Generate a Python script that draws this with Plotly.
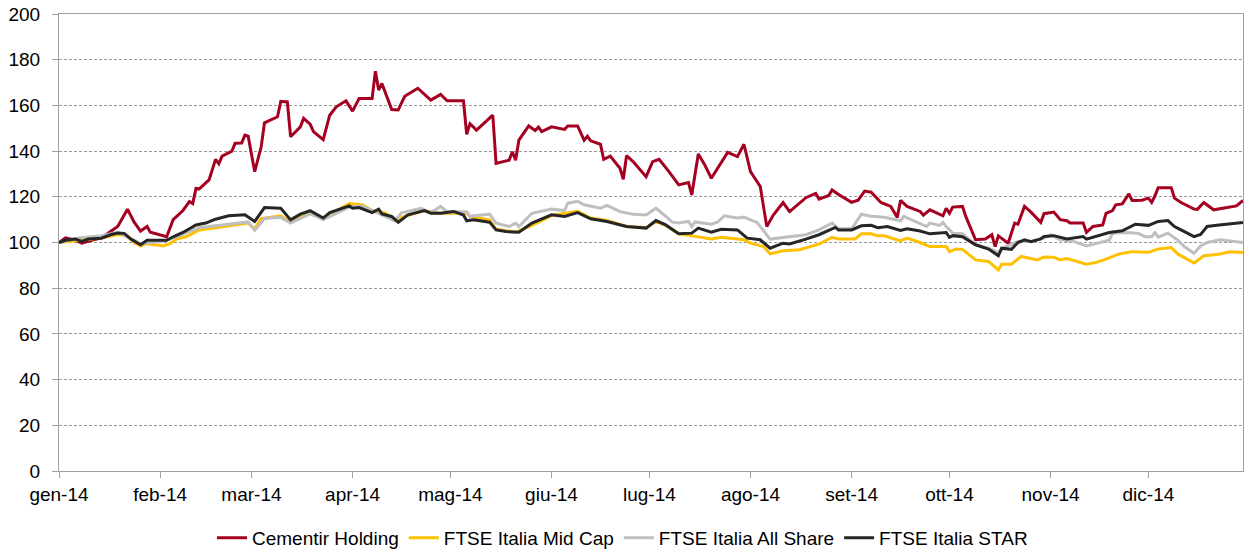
import pandas as pd
import plotly.graph_objects as go

# ---- data (day offset from 1 Jan 2014, index value base 100) ----
cementir_days = [0, 2, 5, 7, 10, 13, 16, 18, 21, 23, 25, 27, 28, 32, 33, 35, 38, 40, 41, 42, 43, 46, 48, 49, 50, 53, 54, 56, 57, 58,
                 60, 62, 63, 67, 68, 70, 71, 74, 75, 77, 78, 81, 83, 85, 88, 90, 92, 96, 97, 98, 99, 102, 104, 106, 110, 114, 117, 119,
                 124, 125, 126, 128, 133, 134, 138, 139, 140, 141, 144, 146, 147, 148, 151, 155, 156, 159, 161, 162, 163, 166, 167, 169,
                 172, 173, 174, 176, 180, 182, 184, 187, 190, 193, 194, 196, 198, 200, 205, 208, 210, 212, 215, 216, 217, 219, 222, 224,
                 229, 232, 233, 236, 237, 239, 243, 245, 247, 249, 251, 252, 255, 257, 258, 260, 264, 265, 267, 271, 272, 273, 274, 277,
                 278, 281, 284, 286, 287, 288, 291, 293, 294, 296, 298, 300, 301, 302, 305, 307, 309, 310, 314, 315, 317, 320, 321, 323,
                 324, 326, 328, 329, 332, 334, 335, 336, 337, 341, 342, 344, 348, 349, 351, 354, 357, 361, 363]
cementir_vals = [100, 102, 101, 99.7, 101, 102, 105, 107, 114.6, 109, 105, 107, 104.5, 103, 102.5, 110, 114, 117.9, 117, 123.7, 123.5,
                 127.4, 136.4, 134.5, 137.8, 140, 143.4, 143.5, 147, 146.5, 131, 142, 152.4, 155, 161.8, 161.5, 146.3, 150.6, 154.3,
                 151.8, 148.5, 145, 155.7, 159.4, 162, 157.5, 163, 163, 175, 166.7, 169.6, 158.2, 158, 164, 167.5, 162.3, 164.8, 162,
                 162, 147.3, 152, 149.2, 155.7, 134.6, 136, 139.7, 136, 144.8, 151, 149, 150.5, 148.5, 150.6, 149.5, 151, 151, 144.8,
                 146.5, 144.5, 143, 136.4, 137.8, 132.5, 127.7, 138, 135.4, 128.8, 135.4, 136.4, 131, 125.2, 126.2, 120.8, 138.7,
                 133.9, 128.1, 139.4, 137.6, 143, 131, 124.5, 115.7, 107, 112, 117.5, 113.5, 119.6, 121.5, 119, 120.6, 123, 121,
                 117.6, 118.5, 122.5, 122, 119, 117.5, 115.8, 111, 118.4, 115.8, 113.6, 112, 114.3, 111.7, 115, 112.8, 115.5, 115.8,
                 111.4, 101.2, 101.5, 103.4, 98.2, 102.9, 99.7, 108.5, 108, 115.8, 113.3, 110, 108.8, 112.6, 113.3, 110, 109.5, 108.5,
                 108.5, 104.4, 107, 107.7, 112.8, 114, 116.5, 116.9, 121.3, 118.4, 118.5, 119.4, 117.5, 120.4, 124, 124, 119.4, 117.5,
                 114.6, 114.5, 117.5, 114.3, 115, 116, 118.4]

midcap_days = [0, 13, 18, 21, 23, 25, 27, 32, 34, 36, 39, 43, 48, 54, 58, 60, 62, 65, 68, 71, 77, 81, 89, 93, 96, 100, 103, 106, 112,
               117, 125, 126, 132, 134, 140, 145, 151, 159, 163, 168, 174, 180, 183, 186, 190, 194, 200, 203, 210, 212, 216, 218, 222,
               227, 233, 237, 239, 244, 246, 249, 251, 253, 258, 260, 264, 267, 272, 273, 275, 277, 281, 285, 288, 289, 292, 295, 298,
               300, 302, 305, 307, 309, 315, 318, 321, 325, 329, 334, 337, 341, 343, 348, 351, 355, 359, 363]
midcap_vals = [100, 102, 103.5, 103, 100, 98.5, 99.5, 98.5, 99.5, 101.5, 102.5, 105.5, 106.5, 107.7, 108.5, 106, 110.4, 111, 111.7,
               109, 112.8, 110.5, 117, 116.5, 114, 113, 109.5, 111.5, 114, 112.8, 112.8, 111.4, 109.9, 105.8, 104.5, 107.5, 111.8,
               113.6, 110.7, 109.6, 107, 106.5, 109.2, 107.5, 103.8, 102.9, 101.5, 102.3, 101.2, 99.7, 98.2, 95, 96.4, 96.8, 99.3,
               102.3, 101.5, 101.5, 103.8, 103.8, 102.9, 102.9, 100.7, 101.9, 100, 98.2, 98.2, 96, 97.2, 97, 92.4, 91.7, 88, 90.5,
               90.5, 93.9, 92.8, 92.4, 93.6, 93.5, 92.4, 93, 90.5, 91.3, 92.7, 95, 96, 95.7, 97.2, 97.8, 95, 91, 94.2, 94.7, 95.9,
               95.6]

allshare_days = [0, 6, 13, 18, 23, 25, 32, 36, 43, 54, 58, 60, 63, 68, 71, 77, 81, 89, 93, 96, 103, 105, 111, 114, 117, 119, 125, 126,
                 132, 134, 138, 140, 141, 145, 151, 155, 156, 159, 161, 166, 168, 172, 176, 180, 183, 186, 188, 190, 193, 194, 195,
                 200, 202, 204, 208, 210, 214, 218, 222, 229, 233, 237, 239, 243, 246, 249, 253, 258, 259, 264, 266, 267, 270, 271,
                 272, 274, 277, 281, 285, 288, 290, 294, 298, 302, 304, 307, 311, 315, 319, 322, 323, 327, 331, 333, 335, 336, 337,
                 340, 341, 343, 345, 348, 350, 352, 356, 363]
allshare_vals = [100, 102, 103, 104.5, 101, 99.5, 100.5, 102.5, 106.5, 108.5, 109, 105.3, 110.5, 111, 108.5, 112.5, 110, 115.5, 116,
                 114, 109.5, 113, 115, 113, 115.8, 113.5, 113.5, 111.5, 112.4, 108.5, 107, 108.5, 107, 112.8, 114.6, 114, 117.2, 118,
                 116.5, 115, 116.2, 113.5, 112.4, 112, 115, 111.5, 108.9, 108.5, 109.2, 107, 109, 108, 109, 111.7, 110.7, 111.1,
                 108.8, 101.5, 102.3, 103.4, 105.5, 108.5, 106, 106, 112.4, 111.5, 111, 109.5, 111.4, 108.5, 107, 108.5, 107.5, 108.8,
                 107, 104.1, 103.8, 99, 97.5, 95.6, 98, 100.4, 100.5, 101.9, 103.4, 101.2, 100.5, 98.5, 100, 101, 104.1, 104.4, 104,
                 102.5, 102.5, 104.3, 102.3, 104.1, 103, 101, 98.2, 95.3, 98.5, 100, 101.2, 100]

star_days = [0, 2, 5, 7, 9, 13, 16, 18, 20, 22, 25, 27, 30, 33, 35, 38, 42, 45, 48, 52, 57, 60, 63, 68, 71, 74, 77, 81, 83, 87, 89, 90,
             92, 96, 98, 99, 102, 104, 107, 112, 114, 117, 121, 124, 125, 127, 132, 134, 137, 141, 145, 151, 155, 159, 163, 168, 174,
             180, 183, 186, 190, 194, 196, 200, 203, 208, 211, 215, 218, 222, 224, 229, 233, 238, 239, 243, 246, 249, 251, 254, 258,
             260, 264, 267, 272, 273, 274, 277, 281, 285, 288, 289, 292, 294, 296, 298, 301, 302, 305, 309, 314, 315, 319, 322, 326,
             330, 334, 337, 340, 342, 344, 348, 350, 352, 355, 363]
star_vals = [100, 101, 101.5, 100.5, 101.5, 101.9, 103.5, 104.1, 104, 101.5, 99, 101, 101, 101, 102.5, 104.4, 107.7, 108.5, 110.2,
             111.7, 112.1, 109.2, 115.3, 115, 109.9, 112.4, 113.9, 110.7, 113.1, 115, 116, 115, 115.3, 113.1, 114.6, 112.5, 111.4,
             108.8, 112.1, 114, 112.8, 112.8, 113.6, 112, 109.5, 110, 108.9, 105.5, 104.8, 104.5, 108.5, 112.1, 111.4, 113.1, 110.4,
             109.2, 107, 106.3, 109.6, 107.7, 103.8, 104.1, 106.3, 104.5, 105.8, 105.5, 101.9, 101.2, 97.5, 99.7, 99.4, 101.5, 103.4,
             106.6, 105.5, 105.5, 107.3, 107.5, 106.5, 107, 105.3, 106, 105, 103.8, 104.4, 102.3, 103, 102.5, 99, 97.1, 94.2, 97.5,
             97, 100, 101.2, 100.4, 101.6, 102.6, 103, 101.5, 102.6, 101.5, 103, 104.4, 105.1, 108, 107.5, 109.2, 109.6, 107, 105.5,
             102.6, 103.5, 107, 107.5, 108.8]

month_ticks = ["2014-01-01", "2014-02-01", "2014-03-01", "2014-04-01", "2014-05-01", "2014-06-01",
               "2014-07-01", "2014-08-01", "2014-09-01", "2014-10-01", "2014-11-01", "2014-12-01"]
month_labels = ["gen-14", "feb-14", "mar-14", "apr-14", "mag-14", "giu-14",
                "lug-14", "ago-14", "set-14", "ott-14", "nov-14", "dic-14"]

series = [
    ("Cementir Holding", cementir_days, cementir_vals, "#A50021"),
    ("FTSE Italia Mid Cap", midcap_days, midcap_vals, "#FFC000"),
    ("FTSE Italia All Share", allshare_days, allshare_vals, "#BFBFBF"),
    ("FTSE Italia STAR", star_days, star_vals, "#262626"),
]

base = pd.Timestamp("2014-01-01")
FONT = "Arial, Liberation Sans, sans-serif"

fig = go.Figure()
for name, days, vals, color in series:
    dates = [base + pd.Timedelta(days=d) for d in days]
    fig.add_trace(go.Scatter(x=dates, y=vals, name=name, mode="lines",
                             line=dict(color=color, width=3)))

axis_col = "#A0A0A0"
fig.update_layout(
    width=1245, height=550,
    margin=dict(l=59, r=2, t=14, b=79, autoexpand=False),
    paper_bgcolor="white", plot_bgcolor="white",
    font=dict(family=FONT, size=19, color="#000000"),
    showlegend=True,
    legend=dict(orientation="h", x=0.5, xanchor="center", xref="container",
                y=0.022, yanchor="middle", yref="container",
                font=dict(family=FONT, size=19, color="#000000"),
                itemwidth=30, tracegroupgap=0),
    xaxis=dict(type="date", range=["2014-01-01", "2014-12-30"],
               tickvals=month_ticks, ticktext=month_labels,
               showgrid=False, zeroline=False, automargin=False,
               showline=True, linecolor=axis_col, linewidth=1, mirror=True,
               ticks="outside", ticklen=6, tickcolor=axis_col,
               ticklabelstandoff=0),
    yaxis=dict(range=[0, 200], dtick=20, tick0=0, automargin=False,
               showgrid=True, gridcolor="#999999", griddash="3px,2px", gridwidth=1,
               zeroline=False, ticklabeloverflow="allow",
               showline=True, linecolor=axis_col, linewidth=1, mirror=True,
               ticks="outside", ticklen=6, tickcolor=axis_col,
               ticklabelstandoff=8),
)

fig.write_html("out.html",
               config={"displayModeBar": False},
               post_script="document.body.style.margin='0';document.body.style.overflow='hidden';")
